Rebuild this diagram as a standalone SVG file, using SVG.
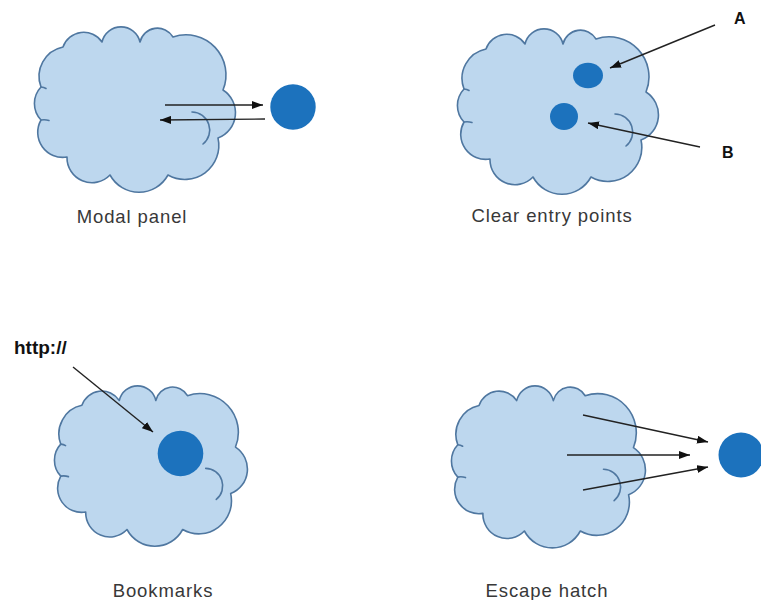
<svg xmlns="http://www.w3.org/2000/svg" width="761" height="600" viewBox="0 0 761 600">
  <style>
    .cloud { fill: #bdd7ee; stroke: #4f77a0; stroke-width: 1.6; stroke-linejoin: round; }
    .cloud-inner { fill: none; stroke: #4f77a0; stroke-width: 1.6; stroke-linecap: round; }
    .dot { fill: #1c72bd; }
    .link { fill: none; stroke: #222; stroke-width: 1.4; }
    .caption { font-family: "Liberation Sans", Arial, sans-serif; font-size: 18.5px; letter-spacing: 0.9px; fill: #383838; text-anchor: middle; }
    .tag { font-family: "Liberation Sans", Arial, sans-serif; font-weight: bold; fill: #111; }
  </style>
  <defs>
    <marker id="head" viewBox="0 0 11 8" refX="11" refY="4" markerWidth="11" markerHeight="8" markerUnits="userSpaceOnUse" orient="auto">
      <path d="M0,0 L11,4 L0,8 z" fill="#111"/>
    </marker>
    <!-- cloud outline in a 200 x 166 local box -->
    <g id="cloud-shape">
      <path class="cloud" vector-effect="non-scaling-stroke" d="M6,62 A30,30 0 0 1 28,22 A22,22 0 0 1 67,17 A19.5,19.5 0 0 1 105,17 A18,18 0 0 1 138,12 A40,40 0 0 1 188,65 A27,27 0 0 1 183,113 A34,34 0 0 1 133,150 A33,33 0 0 1 75,150 A25,25 0 0 1 32,132 A25,25 0 0 1 6,95 A24,24 0 0 1 6,62 Z"/>
      <path class="cloud-inner" vector-effect="non-scaling-stroke" d="M157,87 A18,18 0 0 1 168,119"/>
      <path class="cloud-inner" vector-effect="non-scaling-stroke" d="M6,62 q3,0.3 5,1.5"/>
      <path class="cloud-inner" vector-effect="non-scaling-stroke" d="M6,95 q4,-0.8 8,0.5"/>
    </g>
  </defs>

  <!-- Modal panel -->
  <g id="modal-panel">
    <use href="#cloud-shape" transform="translate(35,25)"/>
    <circle class="dot" cx="293" cy="107" r="22.7"/>
    <text class="caption" x="132" y="223">Modal panel</text>
  </g>

  <!-- Clear entry points -->
  <g id="clear-entry-points">
    <use href="#cloud-shape" transform="translate(458,27)"/>
    <ellipse class="dot" cx="588" cy="75.5" rx="15" ry="12.8"/>
    <ellipse class="dot" cx="564" cy="116.5" rx="14" ry="13.5"/>
    <text class="tag" x="734" y="24" font-size="16">A</text>
    <text class="tag" x="722" y="158" font-size="16">B</text>
    <text class="caption" x="552" y="222">Clear entry points</text>
  </g>

  <!-- Bookmarks -->
  <g id="bookmarks">
    <use href="#cloud-shape" transform="translate(55,384) scale(0.96,0.97)"/>
    <circle class="dot" cx="180.5" cy="453.5" r="22.8"/>
    <text class="tag" x="14" y="354" font-size="19">http://</text>
    <text class="caption" x="163" y="597">Bookmarks</text>
  </g>

  <!-- Escape hatch -->
  <g id="escape-hatch">
    <use href="#cloud-shape" transform="translate(452,384) scale(0.965,0.98)"/>
    <circle class="dot" cx="741" cy="455" r="22.5"/>
    <text class="caption" x="547" y="597">Escape hatch</text>
  </g>

  <!-- connectors -->
  <g id="connectors">
    <line class="link" marker-end="url(#head)" x1="165" y1="105" x2="263" y2="105"/>
    <line class="link" marker-end="url(#head)" x1="265" y1="119" x2="160" y2="120"/>
    <line class="link" marker-end="url(#head)" x1="715" y1="25" x2="610" y2="68"/>
    <line class="link" marker-end="url(#head)" x1="700" y1="147" x2="588" y2="123"/>
    <line class="link" marker-end="url(#head)" x1="73" y1="367" x2="153" y2="432"/>
    <line class="link" marker-end="url(#head)" x1="583" y1="415" x2="708" y2="442"/>
    <line class="link" marker-end="url(#head)" x1="567" y1="455" x2="690" y2="455"/>
    <line class="link" marker-end="url(#head)" x1="583" y1="490" x2="708" y2="467"/>
  </g>
</svg>
